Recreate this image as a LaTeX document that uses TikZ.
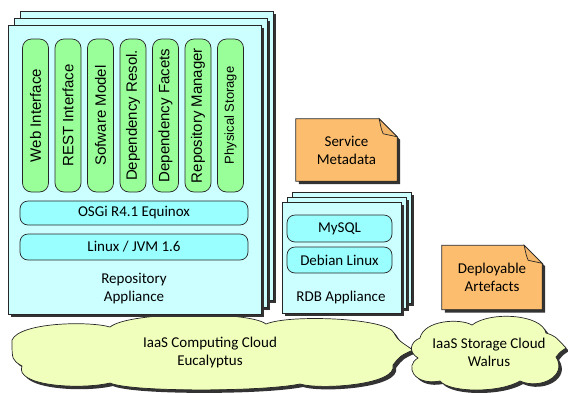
\documentclass[tikz,border=0pt]{standalone}
\usepackage{fontspec}
\setmainfont{Carlito}
\newfontfamily\arialfont{Liberation Sans}
\usetikzlibrary{shadows}

\definecolor{boxCyan}{RGB}{204,255,255}
\definecolor{barCyan}{RGB}{153,255,255}
\definecolor{pillGreen}{RGB}{153,255,153}
\definecolor{docOrange}{RGB}{252,190,110}
\definecolor{cloudYellow}{RGB}{240,255,188}

\tikzset{
	boxShadow/.style={drop shadow={shadow xshift=3pt, shadow yshift=-3pt, fill=black!80, opacity=1}},
	appBox/.style={rectangle, draw=black!85, line width=0.8pt, fill=boxCyan, boxShadow},
	layerBar/.style={rectangle, draw=black!85, line width=0.7pt, fill=barCyan, rounded corners=8pt, inner sep=0pt},
	pillBox/.style={rectangle, draw=black!85, line width=0.7pt, fill=pillGreen, rounded corners=9pt, rotate=90, minimum width=153pt, minimum height=26pt, inner sep=0pt},
	docText/.style={rectangle, align=center, inner sep=0pt},
	docFill/.style={draw=black!85, line width=0.7pt, fill=docOrange, boxShadow},
	cloudFill/.style={draw=black!85, line width=0.7pt, fill=cloudYellow, boxShadow}
}

\begin{document}
\begin{tikzpicture}[x=1pt, y=-1pt, font=\fontsize{15}{18}\selectfont]
\useasboundingbox (0,0) rectangle (568,392);

\filldraw[cloudFill] (12,340) .. controls (20,322) and (90,321) .. (110,327)
	.. controls (130,311) and (250,311) .. (266,324)
	.. controls (290,314) and (388,318) .. (394,333)
	.. controls (398,340) .. (413,350)
	.. controls (400,356) .. (393,365)
	.. controls (398,385) and (320,390) .. (300,384)
	.. controls (260,392) and (130,392) .. (110,383)
	.. controls (80,390) and (14,386) .. (22,366)
	.. controls (12,360) .. (12,340) -- cycle;
\node[align=center](computeCloud) at (210,352){IaaS Computing Cloud\\Eucalyptus};

\filldraw[cloudFill] (420,338) .. controls (424,320) and (460,318) .. (472,325)
	.. controls (490,311) and (542,314) .. (546,333)
	.. controls (555,336) .. (566,348)
	.. controls (560,352) .. (556,357)
	.. controls (568,376) and (540,390) .. (520,381)
	.. controls (500,393) and (450,393) .. (440,381)
	.. controls (414,386) and (404,366) .. (418,358)
	.. controls (408,352) and (410,342) .. (420,338) -- cycle;
\node[align=center](storageCloud) at (489,352){IaaS Storage Cloud\\Walrus};

\node[appBox, minimum width=253pt, minimum height=289pt](repoBack) at (146.5,155.5){};
\node[appBox, minimum width=253pt, minimum height=289pt](repoMid) at (140.5,162.5){};
\node[appBox, minimum width=253pt, minimum height=289pt](repoBox) at (134.5,169.5){};

\foreach \xpos/\lbl/\sz [count=\i] in {35.5/Web Interface/15, 68/REST Interface/15, 100.5/Sofware Model/15, 133/Dependency Resol./15, 165.5/Dependency Facets/15, 198/Repository Manager/15, 230.5/Physical Storage/13}
	\node[pillBox, font=\arialfont\fontsize{\sz}{18}\selectfont](pill\i) at (\xpos,115.5){\lbl};

\node[layerBar, minimum width=228pt, minimum height=24pt](osgiBar) at (134,213){OSGi R4.1 Equinox};
\node[layerBar, minimum width=228pt, minimum height=26pt](jvmBar) at (134,247){Linux / JVM 1.6};
\node[align=center](repoLabel) at (134,289){Repository\\Appliance};

\node[appBox, minimum width=119pt, minimum height=111pt](rdbBack) at (351.5,247.5){};
\node[appBox, minimum width=119pt, minimum height=111pt](rdbMid) at (346.5,252.5){};
\node[appBox, minimum width=119pt, minimum height=111pt](rdbBox) at (341.5,257.5){};
\node[layerBar, minimum width=105pt, minimum height=27pt](mysqlBar) at (339.5,228.5){MySQL};
\node[layerBar, minimum width=105pt, minimum height=26pt](debianBar) at (339.5,260){Debian Linux};
\node(rdbLabel) at (341,297){RDB Appliance};

\node[docText, minimum width=101pt, minimum height=62pt](metaDoc) at (346.5,150){};
\filldraw[docFill] (metaDoc.south west) -- (metaDoc.north west) -- ([xshift=-18pt]metaDoc.north east) -- ([yshift=-18pt]metaDoc.north east) -- (metaDoc.south east) -- cycle;
\draw[line width=0.7pt, draw=black!85, fill=docOrange!80!black!20!docOrange] ([xshift=-18pt]metaDoc.north east) .. controls ([xshift=-16pt,yshift=-10pt]metaDoc.north east) .. ([xshift=-14pt,yshift=-15pt]metaDoc.north east) -- ([yshift=-18pt]metaDoc.north east) -- cycle;
\node[docText](metaText) at (metaDoc.center){Service\\Metadata};

\node[docText, minimum width=100pt, minimum height=64pt](artDoc) at (492,277.5){};
\filldraw[docFill] (artDoc.south west) -- (artDoc.north west) -- ([xshift=-18pt]artDoc.north east) -- ([yshift=-18pt]artDoc.north east) -- (artDoc.south east) -- cycle;
\draw[line width=0.7pt, draw=black!85, fill=docOrange!80!black!20!docOrange] ([xshift=-18pt]artDoc.north east) .. controls ([xshift=-16pt,yshift=-10pt]artDoc.north east) .. ([xshift=-14pt,yshift=-15pt]artDoc.north east) -- ([yshift=-18pt]artDoc.north east) -- cycle;
\node[docText](artText) at (artDoc.center){Deployable\\Artefacts};
\end{tikzpicture}
\end{document}
